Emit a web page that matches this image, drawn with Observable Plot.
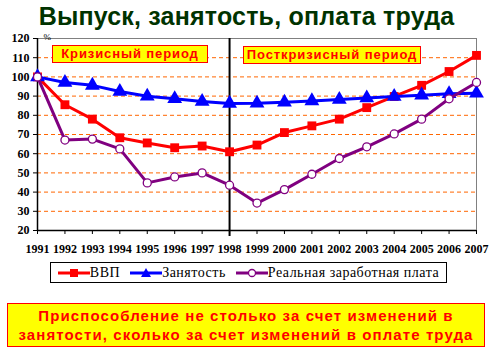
<!DOCTYPE html>
<html><head><meta charset="utf-8">
<script src="https://cdn.jsdelivr.net/npm/d3@7"></script>
<script src="https://cdn.jsdelivr.net/npm/@observablehq/plot@0.6"></script>
<style>
body{margin:0;background:#fff;}
#wrap{position:relative;width:493px;height:355px;overflow:hidden;font-family:Arial,"Liberation Sans",sans-serif;}
#title{position:absolute;left:0;top:2px;width:493px;text-align:center;font:bold 25px/28px "Liberation Sans",Arial,sans-serif;color:#003300;letter-spacing:0.2px;}
#chart{position:absolute;left:0;top:0;}
.period{position:absolute;background:#ffff00;border:1px solid #ff0000;color:#ff0000;font:bold 13px "Liberation Sans",Arial,sans-serif;text-align:center;line-height:16px;height:16px;letter-spacing:0.9px;}
#legend{position:absolute;left:50px;top:262px;width:395px;height:19px;border:1px solid #000;font:14px "Liberation Serif","Times New Roman",serif;display:flex;align-items:center;justify-content:center;gap:10px;letter-spacing:0.5px;}
#legend span{display:inline-flex;align-items:center;}
#note{position:absolute;left:7px;top:303px;width:476px;height:40px;background:#ffff00;border:1px solid #ff0000;color:#ff0000;font:bold 15px "Liberation Sans",Arial,sans-serif;text-align:center;line-height:19px;letter-spacing:1.1px;padding-top:2px;}
</style></head>
<body>
<div id="wrap">
<div id="chart"></div>
<div id="title">Выпуск, занятость, оплата труда</div>
<div class="period" style="left:52px;top:45px;width:154px;">Кризисный период</div>
<div class="period" style="left:243px;top:46px;width:176px;">Посткризисный период</div>
<div id="legend"></div>
<div id="note">Приспособление не столько за счет изменений в<br>занятости, сколько за счет изменений в оплате труда</div>
</div>
<script>
const years = [1991,1992,1993,1994,1995,1996,1997,1998,1999,2000,2001,2002,2003,2004,2005,2006,2007];
const gdp = [100,85.5,78,68.3,65.6,63.1,64,61,64.5,71,74.5,78,84,89.8,95.6,102.8,111.2];
const employment = [100,97.1,95.6,92.4,89.9,88.6,87.2,86.2,86.3,86.8,87.5,88.2,89,89.8,90.5,91.2,91.5];
const realWage = [100,67.1,67.6,62.5,44.8,47.9,50,43.6,34.3,41.3,49.3,57.5,63.6,70.3,78,88.6,97.1];
const seriesNames = ["ВВП","Занятость","Реальная заработная плата"];
const seriesColors = ["#ff0000","#0000ff","#800080"];
const yTicks = [20,30,40,50,60,70,80,90,100,110,120];
const gridTicks = [30,40,50,60,70,80,90,100,110];
const crisisYear = [1998];

const mk = (vals) => years.map((y,i)=>({year:y, value:vals[i]}));
const dGdp = mk(gdp), dEmp = mk(employment), dWage = mk(realWage);

const plot = Plot.plot({
  width: 493, height: 260,
  marginLeft: 37, marginRight: 17, marginTop: 38, marginBottom: 30,
  style: {fontFamily: '"Liberation Serif","Times New Roman",serif', fontWeight: "bold", fontSize: "12px", background: "transparent", overflow: "visible"},
  x: {type: "linear", domain: [1991, 2007]},
  y: {domain: [20, 120]},
  marks: [
    Plot.frame({stroke: "#808080"}),
    Plot.gridY(gridTicks, {stroke: "#ff6600", strokeOpacity: 1, strokeDasharray: "4,3", strokeWidth: 1}),
    Plot.ruleY([20], {stroke: "#000", strokeWidth: 1.5}),
    Plot.ruleX([1991], {stroke: "#000", strokeWidth: 1.5}),
    Plot.axisY(yTicks, {tickSize: 4, tickPadding: 4, label: null, tickFormat: d => d, fill: "#000", letterSpacing: 0.5}),
    Plot.axisX(years, {tickSize: 4, tickPadding: 10, label: null, tickFormat: d => String(d), fill: "#000"}),
    Plot.text(["%"], {frameAnchor: "top-left", dx: 6, dy: -5, fontWeight: "normal", fontSize: 9}),
    Plot.ruleX(crisisYear, {y1: 120, y2: 20, stroke: "#000", strokeWidth: 2, insetBottom: -6}),
    Plot.line(dGdp, {x: "year", y: "value", stroke: seriesColors[0], strokeWidth: 3}),
    Plot.dot(dGdp, {x: "year", y: "value", symbol: "square", r: 5, fill: seriesColors[0]}),
    Plot.line(dEmp, {x: "year", y: "value", stroke: seriesColors[1], strokeWidth: 3}),
    Plot.dot(dEmp, {x: "year", y: "value", symbol: "triangle", r: 5.5, fill: seriesColors[1]}),
    Plot.line(dWage, {x: "year", y: "value", stroke: seriesColors[2], strokeWidth: 3}),
    Plot.dot(dWage, {x: "year", y: "value", symbol: "circle", r: 4, fill: "#fff", stroke: seriesColors[2], strokeWidth: 1.3})
  ]
});
document.getElementById("chart").appendChild(plot);

const syms = ["square","triangle","circle"];
const leg = document.getElementById("legend");
seriesNames.forEach((name,i)=>{
  const s = document.createElement("span");
  let m;
  if (syms[i]==="square") m = `<rect x="12" y="2" width="8" height="8" fill="${seriesColors[i]}"/>`;
  else if (syms[i]==="triangle") m = `<path d="M16,1 L21,10 L11,10 Z" fill="${seriesColors[i]}"/>`;
  else m = `<circle cx="16" cy="6" r="3.5" fill="#fff" stroke="${seriesColors[i]}" stroke-width="1.3"/>`;
  s.innerHTML = `<svg width="32" height="12"><line x1="0" x2="32" y1="6" y2="6" stroke="${seriesColors[i]}" stroke-width="3"/>${m}</svg>` + name;
  leg.appendChild(s);
});
</script>
</body></html>
